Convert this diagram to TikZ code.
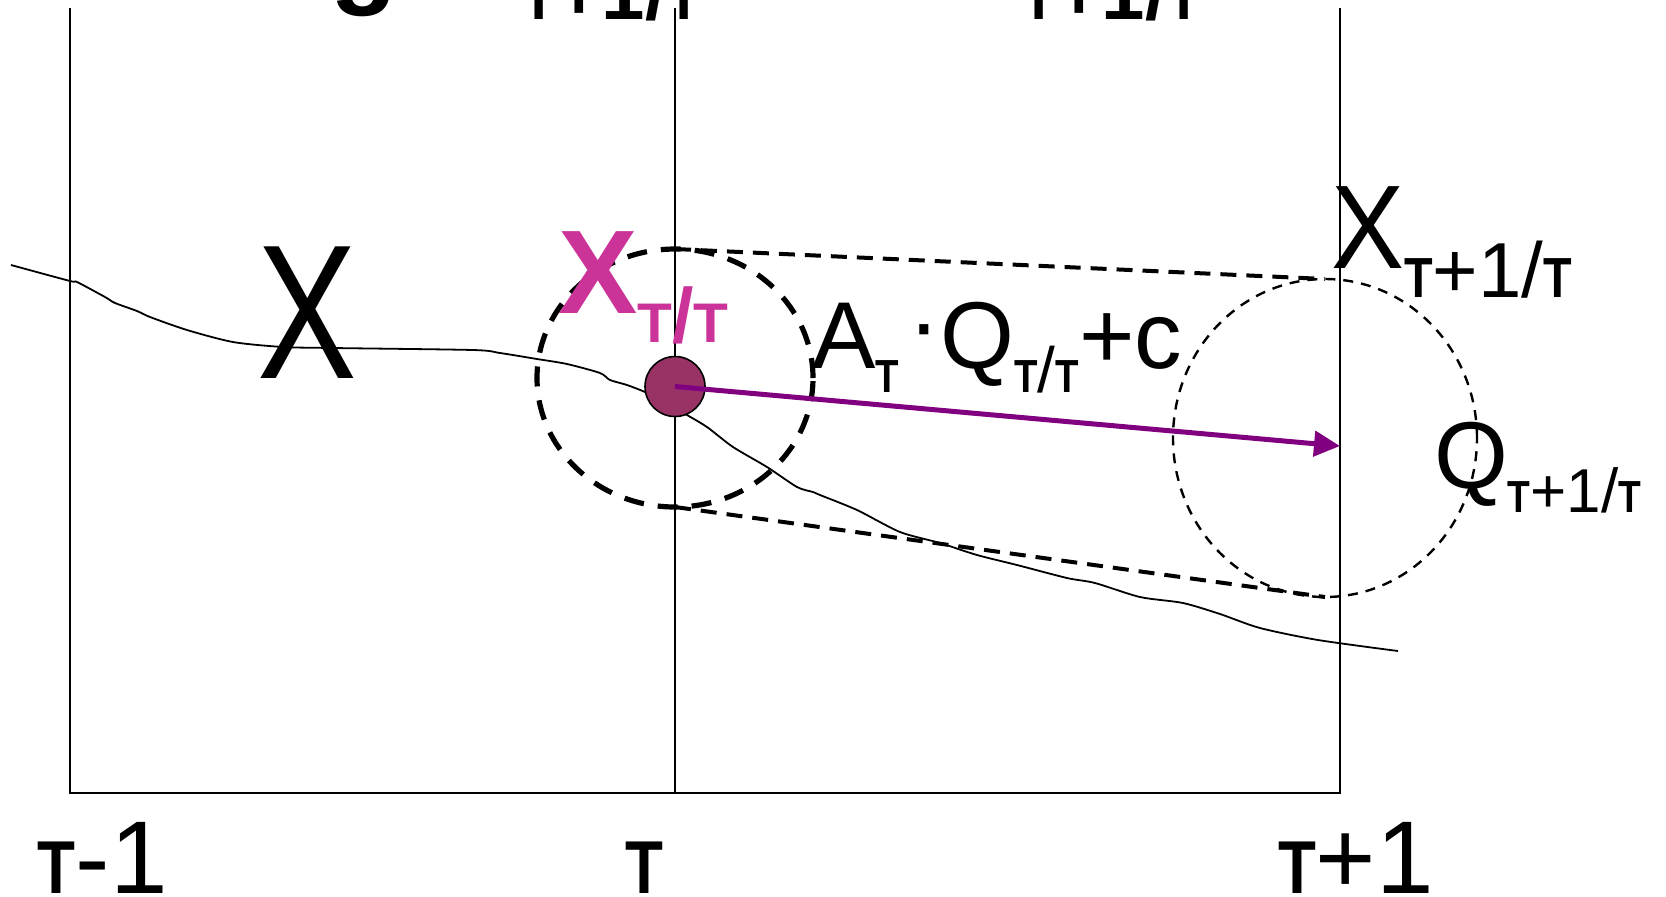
\documentclass[tikz,border=0pt]{standalone}
\usepackage{fontspec}
\setmainfont{Liberation Sans}
\usetikzlibrary{arrows.meta,shapes.geometric}
\definecolor{pinkx}{RGB}{204,51,153}
\definecolor{dotfill}{RGB}{153,51,102}
\definecolor{arrowpurple}{RGB}{128,0,128}
\newcommand{\fsz}[1]{\fontsize{#1}{#1}\selectfont}
% tau as printed in the reference: a small straight T at x-height
\newcommand{\tauT}{\scalebox{0.6}[0.725]{\bfseries T}}
\newcommand{\tauB}{\scalebox{0.74}[0.725]{\bfseries T}}
\begin{document}
\begin{tikzpicture}[x=0.5pt,y=-0.5pt,
  lbl/.style={inner sep=0pt, outer sep=0pt, anchor=base west},
  frameline/.style={line width=1pt, line cap=rect},
  curveline/.style={line width=0.9pt, line join=round},
  bigring/.style={ellipse, draw, line width=2.6pt, dash pattern=on 10pt off 7pt, inner sep=0pt, outer sep=0pt},
  smallring/.style={ellipse, draw, line width=1.2pt, dash pattern=on 5pt off 4pt, inner sep=0pt, outer sep=0pt},
  tangentline/.style={line width=2pt, dash pattern=on 8pt off 5pt},
  pointdot/.style={circle, draw, line width=0.8pt, fill=dotfill, minimum size=30pt, inner sep=0pt},
  predarrow/.style={draw=arrowpurple, line width=2.5pt, -{Triangle[length=13pt,width=12.5pt]}, arrowpurple}
]
\useasboundingbox (0,0) rectangle (1666,896);
\clip (0,0) rectangle (1666,896);

% frame
\coordinate (tl) at (70,8.5);
\coordinate (bl) at (70,793);
\coordinate (tm) at (675,8.5);
\coordinate (bm) at (675,793);
\coordinate (tr) at (1340,8.5);
\coordinate (br) at (1340,793);
\draw[frameline] (tl) -- (bl) -- (br) -- (tr);
\draw[frameline] (tm) -- (bm);

% cut-off fragments at top
\node[lbl] (topg) at (330,-7) {\bfseries\fsz{55}g};
\node[lbl] (topsubA) at (521,19) {\bfseries\fsz{39}\tauB+1/\tauB};
\node[lbl] (topsubB) at (1021,19) {\bfseries\fsz{39}\tauB+1/\tauB};

% path of X
\draw[curveline] plot[smooth, tension=0.45] coordinates {
 (11,265) (70,281) (77,282) (105,297) (115,303) (137,311) (150,317) (187,330)
 (233,342) (283,347) (333,348) (473,350) (500,353) (537,359) (567,364) (600,373)
 (610,380) (627,385) (645,392) (665,402) (687,415) (707,427) (733,447) (767,467)
 (797,487) (813,492) (820,495) (857,510) (900,532) (940,543) (977,555) (1017,565)
 (1067,578) (1095,583) (1140,597) (1183,603) (1220,614) (1260,628) (1318,640) (1398,651)};

% uncertainty regions
\node[bigring, minimum width=138pt, minimum height=129pt] (bigE) at (675,378) {};
\node[smallring, minimum width=152pt, minimum height=159pt] (smallE) at (1325,438) {};
\draw[tangentline] (bigE.north) -- (smallE.north);
\draw[tangentline] (bigE.south) -- (smallE.south);

% estimate point and prediction arrow
\node[pointdot] (pt) at (675,386.5) {};
\coordinate (tip) at (1340,446);
\draw[predarrow] (pt.center) -- (tip);

% labels
\node[lbl] (bigX) at (257,378) {\fsz{95.7}\scalebox{0.78}[1]{X}};
\node[lbl, text=pinkx] (xtt) at (558,313) {{\bfseries\fsz{59.5}X}\raisebox{-14.5pt}{\bfseries\fsz{38.5}\tauB/\tauB}};
\node[lbl] (formula) at (812,368) {\fsz{47.5}A\raisebox{-12pt}{\fsz{32}\tauT}\hspace{5pt}\raisebox{6.5pt}{·}Q\raisebox{-12pt}{\fsz{32}\tauT/\tauT}+c};
\node[lbl] (xnext) at (1331,268) {{\fsz{59.5}\scalebox{0.92}[1]{X}}\raisebox{-14.5pt}{\fsz{39}\tauT+1/\tauT}};
\node[lbl] (qnext) at (1434,488) {{\fsz{47.5}Q}\raisebox{-12pt}{\fsz{31}\tauT+1/\tauT}};

\node[lbl] (tm1) at (38,893) {\fsz{51.7}\tauT-1};
\node[lbl] (t0) at (625,893) {\fsz{51.7}\tauT};
\node[lbl] (tp1) at (1278,893) {\fsz{51.7}\tauT+1};
\end{tikzpicture}
\end{document}
